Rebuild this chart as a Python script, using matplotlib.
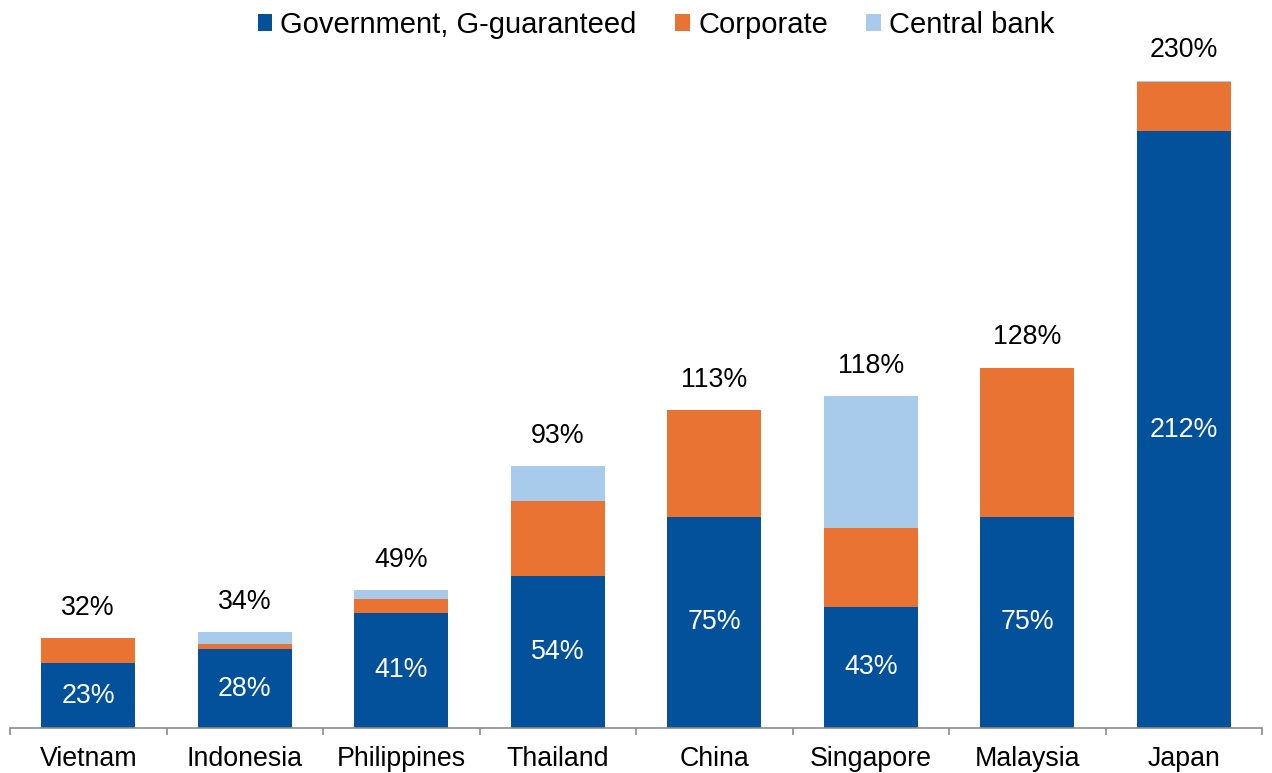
import numpy as np
import matplotlib
matplotlib.use("Agg")
import matplotlib.pyplot as plt
from matplotlib.ticker import FixedLocator

plt.rcParams['font.family'] = ['Liberation Sans', 'DejaVu Sans']

countries = ["Vietnam", "Indonesia", "Philippines", "Thailand", "China",
             "Singapore", "Malaysia", "Japan"]
government = [23, 28, 41, 54, 75, 43, 75, 212]
corporate = [9, 2, 5, 26.5, 38, 28.2, 53, 17.6]
central_bank = [0, 4, 3, 12.5, 0, 46.8, 0, 0.4]
totals = [32, 34, 49, 93, 113, 118, 128, 230]

c_gov = "#02519A"
c_corp = "#E87333"
c_cb = "#A8CAEB"
fs = 19.3

fig = plt.figure(figsize=(12.72, 7.73), dpi=100)
ax = fig.add_axes([10 / 1272, 1 - 728 / 773, 1252 / 1272, 674 / 773])

x = np.arange(len(countries))
gov = np.array(government)
corp = np.array(corporate)
cb = np.array(central_bank)
w = 0.6

ax.bar(x, gov, w, color=c_gov, label="Government, G-guaranteed")
ax.bar(x, corp, w, bottom=gov, color=c_corp, label="Corporate")
ax.bar(x, cb, w, bottom=gov + corp, color=c_cb, label="Central bank")

for i, (g, t) in enumerate(zip(government, totals)):
    ax.text(i, g / 2, f"{g}%", ha="center", va="center", color="white",
            fontsize=fs)
    ax.annotate(f"{t}%", (i, t), xytext=(0, 12.5), textcoords="offset points",
                ha="center", va="bottom", fontsize=fs, color="black")

ax.set_xlim(-0.5, len(countries) - 0.5)
ax.set_ylim(0, 239.5)
ax.set_yticks([])
for s in ("left", "right", "top"):
    ax.spines[s].set_visible(False)
ax.spines["bottom"].set_color("#8C8C8C")
ax.spines["bottom"].set_linewidth(1.2)

ax.set_xticks(x)
ax.set_xticklabels(countries, fontsize=fs)
ax.xaxis.set_minor_locator(FixedLocator(np.arange(-0.5, len(countries), 1)))
ax.tick_params(axis="x", which="major", length=0, pad=13)
ax.tick_params(axis="x", which="minor", length=5, width=1.2,
               color="#8C8C8C", direction="out")

fig.legend(loc="center", bbox_to_anchor=(656 / 1272, 1 - 25 / 773), ncol=3,
           frameon=False, fontsize=21, handlelength=0.5, handleheight=0.5,
           handletextpad=0.28, columnspacing=1.32)

fig.savefig("out.png", dpi=100)
